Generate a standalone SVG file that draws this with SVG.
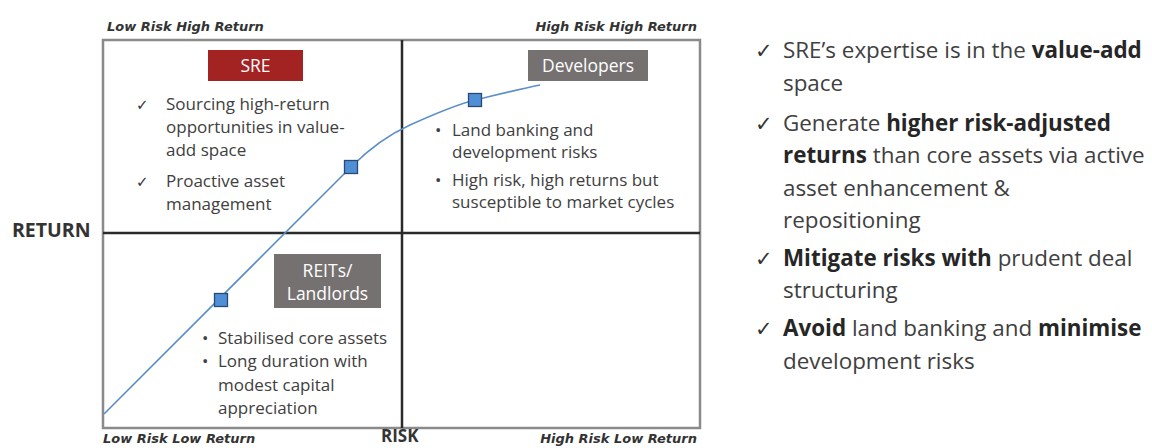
<svg xmlns="http://www.w3.org/2000/svg" width="1152" height="448" viewBox="0 0 1152 448">
<style>
.corner{font-family:"DejaVu Sans",sans-serif;font-weight:bold;font-style:italic;font-size:13px;fill:#333}
.axis{font-family:"Open Sans",sans-serif;font-weight:bold;fill:#333}
.body{font-family:"Open Sans",sans-serif;font-size:17px;fill:#404040}
.chk{font-family:"DejaVu Sans",sans-serif;fill:#333}
.tag{font-family:"Open Sans",sans-serif;font-size:17.5px;fill:#fff;text-anchor:middle}
.right{font-family:"Open Sans",sans-serif;font-size:22.4px;fill:#404040}
.b{font-weight:bold;fill:#262626}
.marker{fill:#4f8fd6;stroke:#2a4a75;stroke-width:1.3}
</style>
<rect width="1152" height="448" fill="#ffffff"/>
<g id="frame">
<rect x="103" y="40" width="597" height="388" fill="none" stroke="#8a8a8a" stroke-width="2.5"/>
<line x1="402" y1="40" x2="402" y2="428" stroke="#2a2a2a" stroke-width="2.5"/>
<line x1="103" y1="233" x2="700" y2="233" stroke="#2a2a2a" stroke-width="2.5"/>
</g>
<g id="labels">
<text class="corner" x="107" y="31">Low Risk High Return</text>
<text class="corner" x="697" y="31" text-anchor="end">High Risk High Return</text>
<text class="corner" x="103" y="443">Low Risk Low Return</text>
<text class="corner" x="697" y="443" text-anchor="end">High Risk Low Return</text>
<text class="axis" x="12" y="237" font-size="19.5">RETURN</text>
<text class="axis" x="381" y="442" font-size="17">RISK</text>
</g>
<g id="sre">
<rect x="208" y="50" width="95" height="31" fill="#a32222"/>
<text class="tag" x="255.5" y="72">SRE</text>
<text class="chk" x="136" y="110" font-size="15">✓</text>
<text class="body" x="166" y="110">Sourcing high-return</text>
<text class="body" x="166" y="133">opportunities  in value-</text>
<text class="body" x="166" y="156">add space</text>
<text class="chk" x="136" y="187" font-size="15">✓</text>
<text class="body" x="166" y="187">Proactive asset</text>
<text class="body" x="166" y="210">management</text>
</g>
<g id="developers">
<rect x="528" y="50" width="120" height="31" fill="#767171"/>
<text class="tag" x="588" y="72">Developers</text>
<text class="body" x="435" y="136">•</text>
<text class="body" x="452" y="136">Land banking and</text>
<text class="body" x="452" y="158">development  risks</text>
<text class="body" x="435" y="186">•</text>
<text class="body" x="452" y="186">High risk, high returns but</text>
<text class="body" x="452" y="208">susceptible  to market cycles</text>
</g>
<g id="reits">
<rect x="274" y="254" width="107" height="54" fill="#767171"/>
<text class="tag" x="327.5" y="277">REITs/</text>
<text class="tag" x="327.5" y="300">Landlords</text>
<text class="body" x="202" y="344">•</text>
<text class="body" x="218" y="344">Stabilised core assets</text>
<text class="body" x="202" y="367">•</text>
<text class="body" x="218" y="367">Long duration with</text>
<text class="body" x="218" y="391">modest capital</text>
<text class="body" x="218" y="414">appreciation</text>
</g>
<g id="connectors">
<path d="M104,414 L351,167 C372,146 390,134 410,125 C430,116 455,105 475,100 C500,94 520,89 540,85" fill="none" stroke="#5b8fc9" stroke-width="1.6"/>
</g>
<g id="points">
<rect class="marker" x="214.5" y="293.5" width="13" height="13"/>
<rect class="marker" x="344.5" y="160.5" width="13" height="13"/>
<rect class="marker" x="468.5" y="93.5" width="13" height="13"/>
</g>
<g id="summary">
<text class="chk" x="755" y="58" font-size="21">✓</text>
<text class="right" x="783" y="58">SRE’s expertise is in the <tspan class="b">value-add</tspan></text>
<text class="right" x="783" y="91">space</text>
<text class="chk" x="755" y="131" font-size="21">✓</text>
<text class="right" x="783" y="131">Generate <tspan class="b">higher risk-adjusted</tspan></text>
<text class="right" x="783" y="163"><tspan class="b">returns</tspan> than core assets via active</text>
<text class="right" x="783" y="196">asset enhancement &amp;</text>
<text class="right" x="783" y="228">repositioning</text>
<text class="chk" x="755" y="266" font-size="21">✓</text>
<text class="right" x="783" y="266"><tspan class="b">Mitigate risks with</tspan> prudent deal</text>
<text class="right" x="783" y="298">structuring</text>
<text class="chk" x="755" y="336" font-size="21">✓</text>
<text class="right" x="783" y="336"><tspan class="b">Avoid</tspan> land banking and <tspan class="b">minimise</tspan></text>
<text class="right" x="783" y="369">development risks</text>
</g>
</svg>
